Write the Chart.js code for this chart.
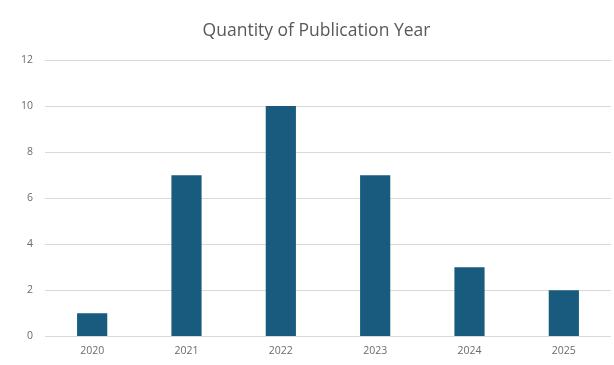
<!DOCTYPE html>
<html lang="en">
<head>
  <meta charset="UTF-8" />
  <title>Quantity of Publication Year</title>
  <script src="https://cdn.jsdelivr.net/npm/chart.js"></script>
  <style>
    * { margin: 0; padding: 0; box-sizing: border-box; }
    body { background: #fff; width: 614px; height: 365px; overflow: hidden; }
    canvas { display: block; }
  </style>
</head>
<body>
  <canvas id="pubChart" width="614" height="365"></canvas>

  <script>
    const years = ['2020', '2021', '2022', '2023', '2024', '2025'];
    const counts = [1, 7, 10, 7, 3, 2];
    const yTicks = [0, 2, 4, 6, 8, 10, 12];

    const ctx = document.getElementById('pubChart').getContext('2d');

    new Chart(ctx, {
      type: 'bar',
      data: {
        labels: years,
        datasets: [{
          label: 'Quantity',
          data: counts,
          backgroundColor: '#195b7e',
          categoryPercentage: 1,
          barPercentage: 0.32
        }]
      },
      options: {
        responsive: false,
        animation: false,
        // left padding keeps the title centred a bit right of the canvas middle
        layout: { padding: { top: 21, right: 3, bottom: 0, left: 22 } },
        plugins: {
          legend: { display: false },
          tooltip: { enabled: false },
          title: {
            display: true,
            text: 'Quantity of Publication Year',
            color: '#595959',
            font: { family: 'Open Sans', size: 17.5, weight: 'normal' },
            padding: { top: 0, bottom: 18 }
          }
        },
        scales: {
          x: {
            grid: { display: false, drawTicks: false },
            border: { display: false },
            ticks: {
              color: '#6b6b6b',
              font: { family: 'Open Sans', size: 10.5 },
              padding: 8
            }
          },
          y: {
            min: 0,
            max: 12,
            afterBuildTicks: axis => { axis.ticks = yTicks.map(v => ({ value: v })); },
            afterFit: axis => { axis.width = 23; },
            grid: { color: '#d9d9d9', drawTicks: false },
            border: { display: false },
            ticks: {
              color: '#6b6b6b',
              font: { family: 'Open Sans', size: 10.5 },
              padding: 12
            }
          }
        }
      }
    });
  </script>
</body>
</html>
